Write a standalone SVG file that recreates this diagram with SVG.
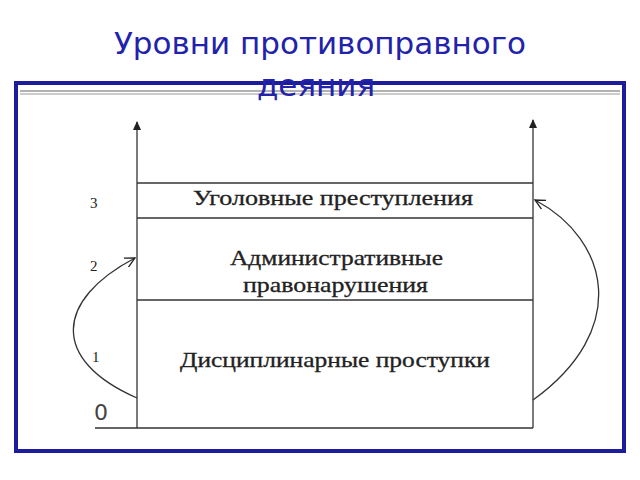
<svg xmlns="http://www.w3.org/2000/svg" width="640" height="480" viewBox="0 0 640 480">
<defs>
<marker id="ar" markerWidth="10" markerHeight="10" refX="8" refY="5" orient="auto" markerUnits="userSpaceOnUse"><path d="M0,1 L9,5 L0,9 z" fill="#222"/></marker>
<marker id="oa" markerWidth="12" markerHeight="12" refX="10" refY="6" orient="auto" markerUnits="userSpaceOnUse"><path d="M0,1 L10,6 L0,11" fill="none" stroke="#222" stroke-width="1.3"/></marker>
</defs>
<style>
.t{font-family:"Liberation Serif",serif;font-size:21px;fill:#222;stroke:#222;stroke-width:0.3}
.n{font-family:"Liberation Serif",serif;font-size:15px;fill:#222}
.l{stroke:#333;stroke-width:1.3;fill:none}
</style>
<rect width="640" height="480" fill="#fff"/>
<rect x="16" y="83" width="608" height="368" fill="#fff" stroke="#1c1c9c" stroke-width="4"/>
<line x1="20" y1="91" x2="620" y2="91" stroke="#666" stroke-width="1.2"/>
<line x1="20" y1="94" x2="620" y2="94" stroke="#999" stroke-width="1"/>
<g id="connectors">
<line class="l" x1="137" y1="428" x2="137" y2="122" marker-end="url(#ar)"/>
<line class="l" x1="533" y1="428" x2="533" y2="120" marker-end="url(#ar)"/>
<line class="l" x1="137" y1="183" x2="533" y2="183"/>
<line class="l" x1="137" y1="218" x2="533" y2="218"/>
<line class="l" x1="137" y1="300" x2="533" y2="300"/>
<line class="l" x1="95" y1="428" x2="533" y2="428"/>
<path class="l" d="M137,398 C50,360 55,300 135,258" marker-end="url(#oa)"/>
<path class="l" d="M533,400 C630,330 610,240 535,200" marker-end="url(#oa)"/>
</g>
<g id="level3"><text class="t" x="193" y="205" textLength="280" lengthAdjust="spacingAndGlyphs">Уголовные преступления</text><text class="n" x="90" y="208">3</text></g>
<g id="level2"><text class="t" x="230" y="265" textLength="213" lengthAdjust="spacingAndGlyphs">Административные</text><text class="t" x="243" y="292" textLength="185" lengthAdjust="spacingAndGlyphs">правонарушения</text><text class="n" x="90" y="271">2</text></g>
<g id="level1"><text class="t" x="180" y="367" textLength="310" lengthAdjust="spacingAndGlyphs">Дисциплинарные проступки</text><text class="n" x="92" y="362">1</text></g>
<g id="level0"><text x="94" y="420" style="font-family:'DejaVu Sans',sans-serif;font-size:22px;fill:#444">0</text></g>
<g id="title"><text x="320" y="54" text-anchor="middle" style="font-family:'DejaVu Sans',sans-serif;font-size:31px;fill:#2222aa">Уровни противоправного</text><text x="316" y="96" text-anchor="middle" style="font-family:'DejaVu Sans',sans-serif;font-size:31px;fill:#2222aa">деяния</text></g>
</svg>
